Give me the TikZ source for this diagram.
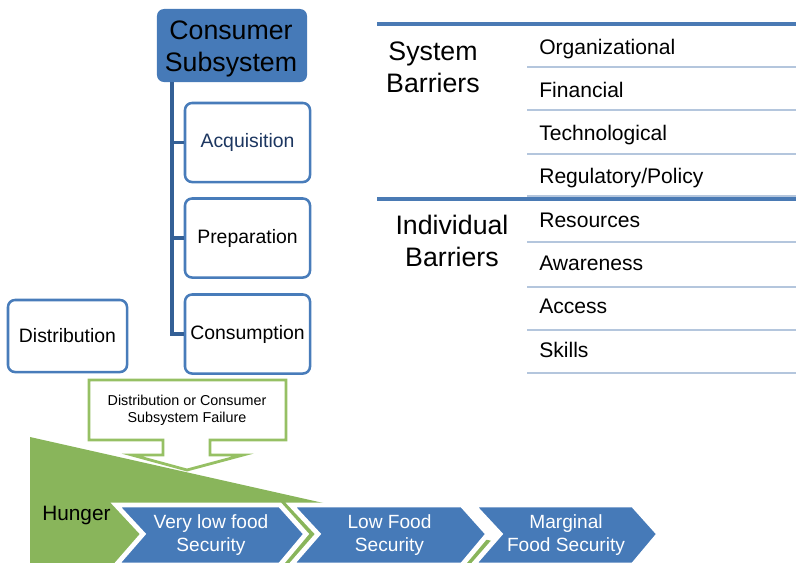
\documentclass[tikz,border=0pt]{standalone}
\usepackage{fontspec}
\setmainfont{Liberation Sans}
\usepackage{tikz}
\definecolor{chevblue}{RGB}{70,122,184}
\definecolor{boxline}{RGB}{72,124,186}
\definecolor{trunkblue}{RGB}{52,96,150}
\definecolor{navytext}{RGB}{28,54,96}
\definecolor{hungergreen}{RGB}{137,181,91}
\definecolor{failgreen}{RGB}{150,192,100}
\definecolor{lightrule}{RGB}{180,198,221}
\definecolor{darkrule}{RGB}{74,122,180}

\begin{document}
\begin{tikzpicture}[x=0.025cm,y=-0.025cm,
    subbox/.style={draw=boxline,line width=1.8pt,fill=white,rounded corners=5pt,
      minimum width=3.125cm,minimum height=1.975cm,inner sep=0pt,
      font=\fontsize{13.8}{16}\selectfont},
    headbox/.style={fill=chevblue,rounded corners=5pt,minimum width=3.75cm,
      minimum height=1.825cm,inner sep=0pt},
    trunkline/.style={draw=trunkblue,line width=2.4pt},
    chevron/.style={fill=chevblue,draw=white,line width=3.4pt},
    chevtext/.style={text=white,align=center,font=\fontsize{13.6}{17}\selectfont},
    bartitle/.style={align=center,font=\fontsize{19}{22.8}\selectfont},
    baritem/.style={anchor=base west,inner sep=0pt,font=\fontsize{15}{18}\selectfont},
    lightline/.style={draw=lightrule,line width=2pt},
    darkline/.style={draw=darkrule,line width=2.2pt}]
  \useasboundingbox (0,0) rectangle (796,562);

  % consumer subsystem tree
  \node[headbox] (cs) at (232,45.5) {};
  \node[bartitle] (cstext) at (231,48.5) {Consumer\\Subsystem};
  \node[subbox,text=navytext] (acq) at (247.5,142.5) {Acquisition};
  \node[subbox] (prep) at (247.5,238) {Preparation};
  \node[subbox] (cons) at (247.5,334) {Consumption};
  \node[subbox,minimum width=2.975cm,minimum height=1.8cm] (dist) at (67.5,336) {Distribution};
  \coordinate (trunk) at (172,82);
  \draw[trunkline] (trunk) |- (acq.west);
  \draw[trunkline] (trunk) |- (prep.west);
  \draw[trunkline] (trunk) |- (cons.west);

  % hunger wedge
  \fill[hungergreen] (30,437) -- (590,563) -- (30,563) -- cycle;

  % failure callout
  \filldraw[fill=white,draw=failgreen,line width=2pt]
    (89,380) -- (286,380) -- (286,440) -- (210,440) -- (210,455) -- (243,455)
    -- (187,470) -- (132,455) -- (163,455) -- (163,440) -- (89,440) -- cycle;
  \node[align=center,font=\fontsize{10.2}{12}\selectfont] (fail) at (187,410)
    {Distribution or Consumer\\Subsystem Failure};

  % food security chevrons
  \foreach \l/\r/\nm/\txt in {116/280/vlfs/{Very low food\\Security},
                              291/462/lfs/{Low Food\\Security},
                              473/633/mfs/{Marginal\\Food Security}} {
    \filldraw[chevron] (\l,505) -- (\r,505) -- ++(26,29) -- (\r,565)
      -- (\l,565) -- ++(27,-31) -- cycle;
    \node[chevtext] (\nm) at ({(\l+\r)/2+13},535) {\txt};
  }
  \node[anchor=base west,inner sep=0pt,font=\fontsize{14.8}{18}\selectfont] (hunger) at (42,520) {Hunger};

  % barriers table
  \draw[darkline] (377,24) -- (796,24);
  \draw[darkline] (377,199) -- (796,199);
  \foreach \y in {67,110,154,196,242,287,330,373}
    \draw[lightline] (527,\y) -- (796,\y);
  \node[bartitle] (sysb) at (433,67.5) {System\\Barriers};
  \node[bartitle] (indb) at (452,241) {Individual\\Barriers};
  \foreach \i/\item in {0/Organizational,1/Financial,2/Technological,3/{Regulatory/Policy},
                        4/Resources,5/Awareness,6/Access,7/Skills}
    \node[baritem] (bar\i) at (539,{54+43.3*\i}) {\item};
\end{tikzpicture}
\end{document}
